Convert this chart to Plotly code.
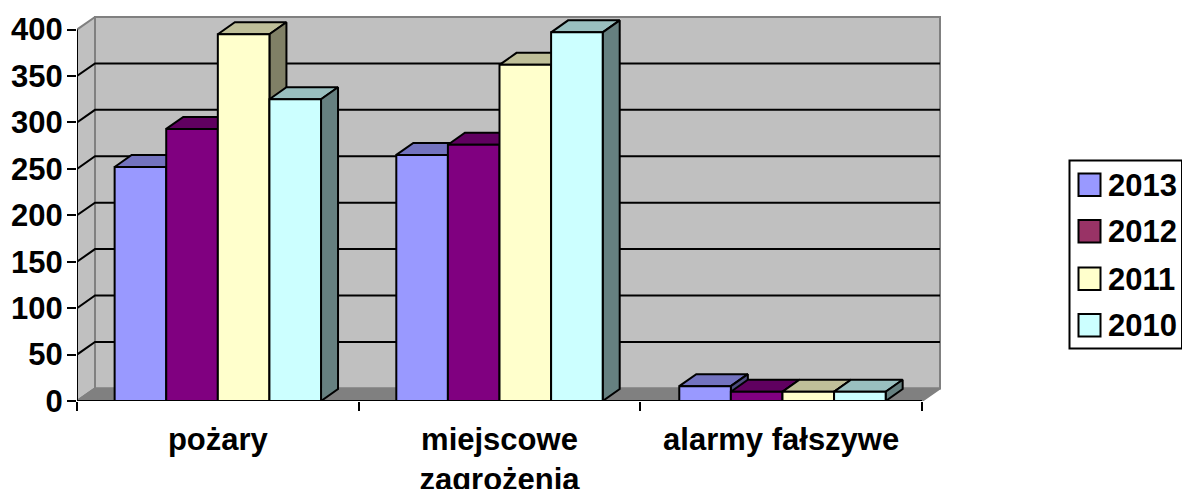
import plotly.graph_objects as go

categories = ["pożary", "miejscowe<br>zagrożenia", "alarmy fałszywe"]
series_names = ["2013", "2012", "2011", "2010"]
v2013 = [252, 265, 16]
v2012 = [293, 276, 10]
v2011 = [395, 362, 10]
v2010 = [325, 397, 10]
y_ticks = [0, 50, 100, 150, 200, 250, 300, 350, 400]

values = [v2013, v2012, v2011, v2010]
front = ["#9999FF", "#800080", "#FFFFCC", "#CCFFFF"]
top = ["#7373BF", "#600060", "#BFBF99", "#99BFBF"]
side = ["#4D4D80", "#400040", "#808066", "#668080"]
legend_cols = ["#9999FF", "#993366", "#FFFFCC", "#CCFFFF"]

W, H = 1182, 489
L, R, B0, PXU = 77, 945, 401.5, 371.5 / 400
CATPX = (922 - 77) / 3
YMAX = 420
T = B0 - YMAX * PXU
XMAX = (R - L) / CATPX
wall_dx, wall_dy = 18 / CATPX, 12.6 / PXU
bar_dx, bar_dy = 17 / CATPX, 12 / PXU
bw = 51.6 / CATPX
group_shift = [0, 0, 1.3 / CATPX]
ncat = len(categories)
FONT = "Liberation Sans"
FS = 31

fig = go.Figure()


def poly(xs, ys, fill, col, lw, z=0):
    fig.add_trace(go.Scatter(x=xs, y=ys, mode="lines", fill="toself", fillcolor=fill,
                             line=dict(color=col, width=lw), cliponaxis=False,
                             showlegend=False, hoverinfo="skip", zorder=z))


def seg(xs, ys, col="#000000", lw=2, z=0):
    fig.add_trace(go.Scatter(x=xs, y=ys, mode="lines", line=dict(color=col, width=lw),
                             cliponaxis=False, showlegend=False, hoverinfo="skip", zorder=z))


ytop = y_ticks[-1]
# walls and floor
poly([wall_dx, ncat + wall_dx, ncat + wall_dx, wall_dx, wall_dx],
     [wall_dy, wall_dy, ytop + wall_dy, ytop + wall_dy, wall_dy], "#C0C0C0", "#808080", 2)
poly([0, wall_dx, wall_dx, 0, 0], [0, wall_dy, ytop + wall_dy, ytop, 0], "#C0C0C0", "#808080", 2)
poly([0, wall_dx, ncat + wall_dx, ncat, 0], [0, wall_dy, wall_dy, 0, 0], "#808080", "#808080", 2)
# gridlines on walls
for t in y_ticks[1:-1]:
    seg([0, wall_dx, ncat + wall_dx], [t, t + wall_dy, t + wall_dy])
seg([0, 0], [0, ytop])
seg([0, ncat], [0, 0], z=20)

# bars
for k, (name, vals) in enumerate(zip(series_names, values)):
    z = 2 * k + 1
    xc = [i + 0.5 + (k - 1.5) * bw + group_shift[i] for i in range(ncat)]
    for x, v in zip(xc, vals):
        xl, xr = x - bw / 2, x + bw / 2
        poly([xl, xl + bar_dx, xr + bar_dx, xr, xl], [v, v + bar_dy, v + bar_dy, v, v], top[k], "#000000", 2, z)
        poly([xr, xr + bar_dx, xr + bar_dx, xr, xr], [0, bar_dy, v + bar_dy, v, 0], side[k], "#000000", 2, z)
    fig.add_trace(go.Bar(x=xc, y=vals, width=bw, name=name, showlegend=False, zorder=z + 1,
                         marker=dict(color=front[k], line=dict(color="#000000", width=2))))

# legend (paper coordinates derived from pixel layout)
def px(x):
    return (x - L) / (R - L)


def py(y):
    return (B0 - y) / (B0 - T)


shapes = [dict(type="rect", xref="paper", yref="paper", x0=px(1069.5), x1=px(1182), y0=py(161), y1=py(349),
               line=dict(color="#000000", width=2), fillcolor="#FFFFFF")]
annos = []
for name, col, y0 in zip(series_names, legend_cols, [174, 220.5, 268, 314.5]):
    shapes.append(dict(type="rect", xref="paper", yref="paper", x0=px(1078.5), x1=px(1100.5), y0=py(y0), y1=py(y0 + 22.5),
                       line=dict(color="#000000", width=2), fillcolor=col))
    annos.append(dict(xref="paper", yref="paper", x=px(1106), y=py(y0 + 11.5), xanchor="left", yanchor="middle",
                      text=f"<b>{name}</b>", showarrow=False,
                      font=dict(family=FONT, size=FS, color="#000000")))

fig.update_layout(
    width=W, height=H, margin=dict(l=L, r=W - R, t=T, b=H - B0, pad=0, autoexpand=False),
    paper_bgcolor="#FFFFFF", plot_bgcolor="rgba(0,0,0,0)", showlegend=False,
    barmode="overlay", shapes=shapes, annotations=annos,
    font=dict(family=FONT, color="#000000"),
    xaxis=dict(range=[0, XMAX], tickmode="array", tickvals=[i + 0.5 for i in range(ncat)], ticktext=categories,
               ticks="", showgrid=False, zeroline=False, showline=False, tickangle=0, ticklabelstandoff=17,
               automargin=False, tickfont=dict(family=FONT, size=FS, weight="bold"),
               minor=dict(tickmode="array", tickvals=list(range(ncat + 1)), ticks="outside", ticklen=9,
                          tickwidth=2, tickcolor="#000000", showgrid=False)),
    yaxis=dict(range=[0, YMAX], tickmode="array", tickvals=y_ticks, ticks="outside", ticklen=9, tickwidth=2,
               tickcolor="#000000", showgrid=False, zeroline=False, showline=False, automargin=False,
               ticklabelstandoff=-2, tickfont=dict(family=FONT, size=FS, weight="bold")),
)
fig.write_html("out.html", config=dict(displayModeBar=False),
               post_script="document.body.style.margin='0';document.body.style.overflow='hidden';")
